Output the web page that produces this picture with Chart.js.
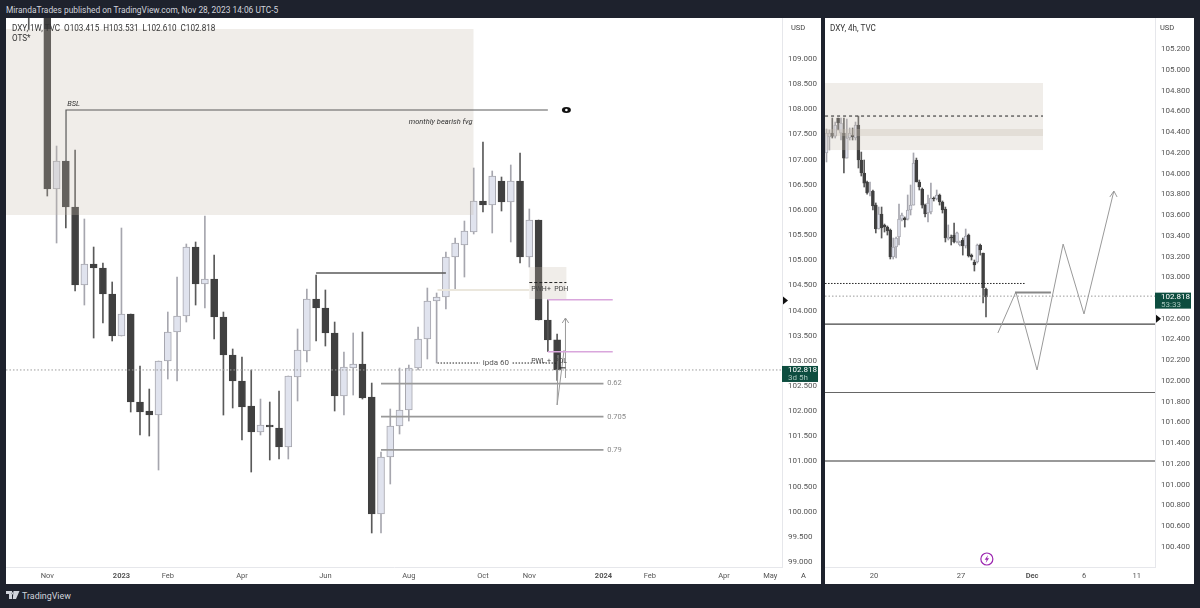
<!DOCTYPE html>
<html>
<head>
<meta charset="utf-8">
<title>DXY</title>
<script src="https://cdn.jsdelivr.net/npm/chart.js@4/dist/chart.umd.min.js"></script>
<style>
  html, body { margin: 0; padding: 0; width: 1200px; height: 608px; overflow: hidden; background: #1e222d; font-family: Roboto, sans-serif; }
  canvas { position: absolute; background: #fff; }
  .txt { position: absolute; white-space: pre; line-height: 10px; }
  #head { left: 6px; top: 5px; font-size: 8.4px; color: #d1d4dc; }
  #foot { left: 22px; top: 591px; font-size: 8.9px; color: #d1d4dc; }
  .legend { font-size: 8.15px; color: #333; }
  .usd { font-size: 7.5px; color: #444; }
</style>
</head>
<body>
<canvas id="weekly" width="815" height="566" style="left:6px;top:18px"></canvas>
<canvas id="fourHour" width="369" height="566" style="left:825px;top:18px"></canvas>

<div class="txt" id="head">MirandaTrades published on TradingView.com, Nov 28, 2023 14:06 UTC-5</div>
<div class="txt legend" style="left:12px;top:23px">DXY, 1W, TVC  O103.415  H103.531  L102.610  C102.818</div>
<div class="txt legend" style="left:12px;top:33px">OTS*</div>
<div class="txt legend" style="left:830px;top:23px">DXY, 4h, TVC</div>
<div class="txt usd" style="left:791px;top:23px">USD</div>
<div class="txt usd" style="left:1160px;top:23px">USD</div>
<div class="txt usd" style="left:801px;top:571px">A</div>
<svg style="position:absolute;left:6px;top:591px" width="14" height="9" viewBox="0 0 14 9">
  <path d="M0 0h6v8H3V3H0z M7.5 0h6L10 8H6.8z M6.6 1.2a1 1 0 1 0 .01 0z" fill="#d1d4dc"/>
</svg>
<div class="txt" id="foot">TradingView</div>

<script>
// weekly chart, first two weeks sit above the visible range
const weeklyOpen = [111.2,110.7,110.8,106.415,106.972,106.058,104.507,104.924,104.845,104.328,103.493,103.930,102.181,102.002,101.922,102.996,103.572,103.891,105.262,104.527,104.626,103.871,103.115,102.598,102.101,101.584,101.724,101.664,101.286,102.678,103.195,104.228,104.050,103.553,102.300,102.857,102.936,102.280,99.954,101.087,101.704,102.022,102.857,103.433,104.189,104.268,105.064,105.302,105.561,106.177,106.097,106.574,106.157,106.574,105.064,105.799,103.811,103.415];
const weeklyHigh = [112,111.2,110.9,107.270,106.972,107.191,105.819,105.262,104.944,104.567,105.640,103.930,102.897,102.439,102.996,103.970,104.666,105.322,105.362,105.879,105.103,103.970,103.235,103.075,102.817,102.240,102.181,102.400,102.698,103.632,104.427,104.706,104.408,103.771,103.175,103.553,103.572,102.558,101.187,102.042,102.857,102.916,103.672,104.447,104.348,105.163,105.441,105.779,106.833,107.350,106.773,106.654,106.893,107.131,106.018,105.799,103.811,103.531];
const weeklyLow = [109.577,110,106.276,105.342,105.640,104.388,104.109,103.453,103.751,103.394,103.493,101.982,101.525,101.505,100.829,102.638,102.598,103.771,104.109,104.050,103.433,101.922,102.062,101.425,100.789,101.525,101.028,101.048,101.048,102.201,102.976,103.394,103.294,102.002,101.922,102.320,102.240,99.577,99.577,100.551,101.545,101.803,102.817,103.036,102.956,104.030,104.427,104.666,105.521,105.958,105.541,105.978,105.362,104.944,104.865,103.811,103.413,102.610];
const weeklyClose = [110,110.8,106.415,106.972,106.058,104.507,104.924,104.845,104.328,103.493,103.930,102.181,101.982,101.922,102.996,103.572,103.891,105.262,104.527,104.626,103.871,103.115,102.598,102.081,101.584,101.724,101.684,101.286,102.698,103.215,104.228,104.050,103.553,102.300,102.877,102.936,102.260,99.954,101.087,101.704,102.022,102.857,103.433,104.189,104.268,105.064,105.342,105.580,106.177,106.097,106.674,106.157,106.574,105.064,105.799,103.811,103.413,102.818];
const weeklyTickPos = [0,8,13,21,30,39,47,52,60,65,73,78];
const weeklyTickText = ['Nov','2023','Feb','Apr','Jun','Aug','Oct','Nov','2024','Feb','Apr','May'];
const weeklyPriceTicks = [109,108.5,108,107.5,107,106.5,106,105.5,105,104.5,104,103.5,103,102.5,102,101.5,101,100.5,100,99.5,99];

// 4h chart
const hourOpen = [104.198,104.352,104.390,104.361,104.535,104.390,104.390,104.149,104.342,104.371,104.342,104.467,104.130,104.005,103.918,103.812,103.831,103.696,103.465,103.610,103.504,103.484,103.455,103.195,103.292,103.388,103.561,103.571,103.561,103.648,103.696,104.130,103.918,103.851,103.696,103.619,103.629,103.764,103.754,103.793,103.725,103.658,103.369,103.388,103.407,103.340,103.311,103.359,103.301,103.407,103.214,103.147,103.147,103.311,103.234,102.887];
const hourHigh = [104.429,104.419,104.535,104.496,104.535,104.535,104.535,104.525,104.439,104.439,104.496,104.554,104.207,104.130,103.928,103.918,103.841,103.716,103.677,103.677,103.513,103.494,103.465,103.378,103.388,103.706,103.619,103.581,103.793,103.889,104.198,104.149,103.937,103.860,103.706,103.793,103.908,103.774,103.841,103.802,103.735,103.677,103.504,103.407,103.523,103.436,103.349,103.378,103.465,103.417,103.224,103.166,103.320,103.320,103.234,102.896];
const hourLow = [104.111,104.226,104.342,104.342,104.419,104.323,104.005,104.149,104.323,104.323,104.323,104.053,103.976,103.870,103.802,103.783,103.648,103.427,103.465,103.378,103.436,103.407,103.176,103.176,103.186,103.311,103.542,103.484,103.552,103.600,103.696,103.918,103.841,103.667,103.581,103.533,103.610,103.735,103.745,103.696,103.619,103.340,103.359,103.311,103.330,103.330,103.301,103.214,103.282,103.195,103.166,103.060,103.137,103.214,102.752,102.617];
const hourClose = [104.390,104.390,104.361,104.467,104.487,104.487,104.149,104.342,104.390,104.352,104.467,104.130,104.005,103.908,103.812,103.822,103.687,103.465,103.610,103.475,103.484,103.446,103.195,103.292,103.378,103.561,103.600,103.552,103.648,103.696,104.101,103.918,103.870,103.696,103.610,103.716,103.764,103.754,103.793,103.725,103.648,103.378,103.388,103.378,103.340,103.427,103.340,103.301,103.398,103.205,103.195,103.118,103.311,103.263,102.896,102.810];
const hourTickPos = [16.4,46.4,70.9,88.8,107];
const hourTickText = ['20','27','Dec','6','11'];
const hourPriceTicks = [105.2,105,104.8,104.6,104.4,104.2,104,103.8,103.6,103.4,103.2,103,102.6,102.4,102.2,102,101.8,101.6,101.4,101.2,101,100.8,100.6,100.4];

const lastPrice = 102.818;
const fibLevels = [102.548,101.889,101.228];
const fibNames = ['0.62','0.705','0.79'];

// drawings on the weekly pane
const bslX = [2.02,2.02,54];
const bslY = [106.972,107.986,107.986];
const swingX = [29,43];
const swingY = [104.745,104.745];
const beigeX = [42.1,52];
const beigeY = [104.408,104.408];
const pwhX = [52,56];
const pwhY = [104.556,104.556];
const purpleX = [54,61];
const purpleHigh = [104.215,104.215];
const purpleLow = [103.181,103.181];
const stemX = [54,54];
const stemY = [104.215,103.181];
const ipdaX = [42.1,55];
const ipdaY = [102.956,102.956];
const tickX = [55.3,55.9];
const tickY = [102.86,102.86];
const wickPathX = [55.1,55,55.75];
const wickPathY = [103.115,102.121,103.215];
const upArrowX = [55.9,55.9];
const upArrowY = [102.658,103.851];
const upHeadX = [55.55,55.9,56.25];
const upHeadY = [103.751,103.851,103.751];

// drawings on the 4h pane
const dashX = [-0.5,74.66];
const dashY = [104.554,104.554];
const pdX = [-0.5,68.8];
const pdY = [102.94,102.94];
const shelfX = [65,77.4];
const shelfY = [102.853,102.853];
const projX = [59.1,65.3,72.6,81.6,88.8,99.1];
const projY = [102.463,102.858,102.106,103.32,102.646,103.831];
const projHeadX = [97.7,99.1,100.2];
const projHeadY = [103.774,103.831,103.774];

Chart.defaults.animation = false;
Chart.defaults.font.family = 'Roboto, sans-serif';

const ZONE = 'rgba(200,189,174,0.27)';
const AXIS_TEXT = '#555';
const BOLD_TICKS = ['2023','2024','Dec'];

function pts(xs, ys) {
  return xs.map((x, i) => ({ x: x, y: ys[i] }));
}

function lineSet(xs, ys, color, width, dash) {
  return { type: 'line', data: pts(xs, ys), borderColor: color, borderWidth: width, borderDash: dash || [], pointRadius: 0, tension: 0, order: 10 };
}

function candleSets(o, h, l, c, first, bodyWidth) {
  const xs = o.map((_, i) => first + i);
  const up = c.map((v, i) => v >= o[i]);
  return [
    {
      type: 'bar', grouped: false, order: 30, barThickness: 1,
      data: xs.map((x, i) => ({ x: x, y: [l[i], h[i]] })),
      backgroundColor: up.map(u => u ? '#a6a6ae' : '#5a5a5a')
    },
    {
      type: 'bar', grouped: false, order: 20, barThickness: bodyWidth, borderSkipped: false, borderWidth: 1,
      data: xs.map((x, i) => ({ x: x, y: [Math.min(o[i], c[i]), Math.max(o[i], c[i])] })),
      backgroundColor: up.map(u => u ? '#e0e3ee' : '#404040'),
      borderColor: up.map(u => u ? '#a6a6ae' : '#404040')
    }
  ];
}

function baseOptions(xMin, xMax, yMin, yMax, tickPos, tickText, priceTicks) {
  return {
    responsive: false,
    layout: { padding: 0 },
    plugins: { legend: { display: false }, tooltip: { enabled: false } },
    scales: {
      x: {
        type: 'linear', min: xMin, max: xMax, offset: false,
        grid: { display: false, drawTicks: false },
        border: { color: '#e6e7eb' },
        afterBuildTicks: s => { s.ticks = tickPos.map(v => ({ value: v })); },
        afterFit: s => { s.height = 17; s.paddingLeft = 0; s.paddingRight = 0; },
        ticks: {
          autoSkip: false, maxRotation: 0, padding: 5, color: AXIS_TEXT,
          callback: v => tickText[tickPos.indexOf(v)],
          font: ctx => {
            const t = tickText[tickPos.indexOf(ctx.tick ? ctx.tick.value : -99)];
            return { size: 7.5, weight: BOLD_TICKS.includes(t) ? 'bold' : 'normal' };
          }
        }
      },
      y: {
        position: 'right', min: yMin, max: yMax,
        grid: { display: false, drawTicks: false },
        border: { color: '#e6e7eb' },
        afterBuildTicks: s => { s.ticks = priceTicks.map(v => ({ value: v })); },
        // tick label half heights would otherwise push the plot down
        afterFit: s => { s.width = 39; s.paddingTop = 0; s.paddingBottom = 0; },
        ticks: { padding: 6, color: AXIS_TEXT, font: { size: 8 }, callback: v => v.toFixed(3) }
      }
    }
  };
}

function fillZone(chart, x1, x2, y1, y2, color) {
  const { x, y } = chart.scales;
  const ctx = chart.ctx;
  ctx.save();
  ctx.fillStyle = color;
  ctx.fillRect(x.getPixelForValue(x1), y.getPixelForValue(y2), x.getPixelForValue(x2) - x.getPixelForValue(x1), y.getPixelForValue(y1) - y.getPixelForValue(y2));
  ctx.restore();
}

function note(chart, text, xv, yv, opts) {
  const o = opts || {};
  const ctx = chart.ctx;
  const px = chart.scales.x.getPixelForValue(xv);
  const py = chart.scales.y.getPixelForValue(yv);
  ctx.save();
  ctx.font = (o.italic ? 'italic ' : '') + (o.size || 7.5) + 'px Roboto, sans-serif';
  ctx.textBaseline = 'middle';
  ctx.textAlign = o.align || 'left';
  if (o.bg) {
    const w = ctx.measureText(text).width;
    ctx.fillStyle = '#fff';
    ctx.fillRect(px - w / 2 - 3, py - 4, w + 6, 8);
  }
  ctx.fillStyle = o.color || '#555';
  ctx.fillText(text, px, py);
  ctx.restore();
}

function priceBox(chart, top, line1, line2) {
  const ctx = chart.ctx;
  const area = chart.chartArea;
  const py = chart.scales.y.getPixelForValue(lastPrice);
  ctx.save();
  ctx.fillStyle = '#0d4d3f';
  ctx.fillRect(area.right, py + top, 36, 16);
  ctx.font = '8px Roboto, sans-serif';
  ctx.textBaseline = 'middle';
  ctx.fillStyle = '#fff';
  ctx.fillText(line1, area.right + 6, py + top + 4.5);
  ctx.fillStyle = '#a5c4bb';
  ctx.fillText(line2, area.right + 6, py + top + 12);
  ctx.restore();
}

function marker(chart, price) {
  const ctx = chart.ctx;
  const px = chart.chartArea.right + 1;
  const py = chart.scales.y.getPixelForValue(price);
  ctx.save();
  ctx.fillStyle = '#111';
  ctx.beginPath();
  ctx.moveTo(px, py - 4);
  ctx.lineTo(px + 5, py);
  ctx.lineTo(px, py + 4);
  ctx.fill();
  ctx.restore();
}

const weeklyExtras = {
  id: 'weeklyExtras',
  afterDatasetDraw(chart, args) {
    if (args.index !== 1) return;
    fillZone(chart, -4.46, 45.98, 105.899, 109.596, ZONE);
    fillZone(chart, 52, 56, 104.228, 104.865, ZONE);
  },
  afterDraw(chart) {
    note(chart, 'BSL', 2.15, 108.11, { italic: true, color: '#333' });
    note(chart, 'monthly bearish fvg', 39, 107.75, { italic: true, color: '#333' });
    note(chart, 'ipda 60', 48.4, 102.956, { bg: true, align: 'center', size: 8 });
    note(chart, 'PWH', 52.2, 104.42, { color: '#444', size: 7 });
    note(chart, '+', 53.9, 104.42, { color: '#444', size: 7 });
    note(chart, 'PDH', 54.7, 104.42, { color: '#444', size: 7 });
    note(chart, 'PWL', 52.2, 102.99, { color: '#444', size: 7 });
    note(chart, '+', 53.9, 102.99, { color: '#444', size: 7 });
    note(chart, 'PDL', 54.7, 102.99, { color: '#444', size: 7 });
    fibLevels.forEach((lv, i) => note(chart, fibNames[i], 60.4, lv, { color: '#888' }));
    // eye icon
    const ctx = chart.ctx;
    const ex = chart.scales.x.getPixelForValue(56);
    const ey = chart.scales.y.getPixelForValue(107.986);
    ctx.save();
    ctx.fillStyle = '#111';
    ctx.beginPath();
    ctx.ellipse(ex, ey, 4.5, 3, 0, 0, Math.PI * 2);
    ctx.fill();
    ctx.fillStyle = '#fff';
    ctx.beginPath();
    ctx.arc(ex, ey, 1.3, 0, Math.PI * 2);
    ctx.fill();
    ctx.restore();
    priceBox(chart, -4, '102.818', '3d 5h');
    marker(chart, 104.2);
  }
};

const hourExtras = {
  id: 'hourExtras',
  afterDatasetDraw(chart, args) {
    if (args.index !== 1) return;
    fillZone(chart, -0.52, 74.66, 104.226, 104.872, ZONE);
    fillZone(chart, -0.52, 74.66, 104.361, 104.429, 'rgba(200,189,174,0.3)');
  },
  afterDraw(chart) {
    // lightning icon
    const ctx = chart.ctx;
    const ix = chart.scales.x.getPixelForValue(55.3);
    const iy = chart.scales.y.getPixelForValue(100.284);
    ctx.save();
    ctx.strokeStyle = '#9c27b0';
    ctx.lineWidth = 1.2;
    ctx.beginPath();
    ctx.arc(ix, iy, 6, 0, Math.PI * 2);
    ctx.stroke();
    ctx.fillStyle = '#9c27b0';
    ctx.beginPath();
    ctx.moveTo(ix + 1.3, iy - 4);
    ctx.lineTo(ix - 2.2, iy + 0.7);
    ctx.lineTo(ix - 0.2, iy + 0.7);
    ctx.lineTo(ix - 1.2, iy + 4);
    ctx.lineTo(ix + 2.2, iy - 0.8);
    ctx.lineTo(ix + 0.2, iy - 0.8);
    ctx.fill();
    ctx.restore();
    priceBox(chart, -3.5, '102.818', '53:33');
    marker(chart, 102.6);
  }
};

const weeklyLines = [
  lineSet(bslX, bslY, '#5a5a5a', 1.2),
  lineSet(swingX, swingY, '#5a5a5a', 1.6),
  lineSet(beigeX, beigeY, '#ebe7dd', 2),
  lineSet(pwhX, pwhY, '#222', 1, [3, 2]),
  lineSet(purpleX, purpleHigh, '#d9a6dc', 1.4),
  lineSet(purpleX, purpleLow, '#d9a6dc', 1.4),
  lineSet(stemX, stemY, '#555', 1),
  lineSet(ipdaX, ipdaY, '#222', 1, [1.5, 1.5]),
  lineSet(tickX, tickY, '#222', 1),
  lineSet(wickPathX, wickPathY, '#999', 1),
  lineSet(upArrowX, upArrowY, '#999', 1),
  lineSet(upHeadX, upHeadY, '#999', 1),
  lineSet([-4.46, 79.26], [lastPrice, lastPrice], '#9a9a9a', 1, [1.5, 2])
].concat(fibLevels.map(lv => lineSet([36, 60], [lv, lv], '#999', 1.7)));

new Chart(document.getElementById('weekly'), {
  type: 'bar',
  data: { datasets: candleSets(weeklyOpen, weeklyHigh, weeklyLow, weeklyClose, -2, 7).concat(weeklyLines) },
  options: baseOptions(-4.455, 79.26, 98.901, 109.815, weeklyTickPos, weeklyTickText, weeklyPriceTicks),
  plugins: [weeklyExtras]
});

const hourLines = [
  lineSet(dashX, dashY, '#222', 1, [3, 3]),
  lineSet(pdX, pdY, '#222', 1, [1.5, 1.5]),
  lineSet([-0.52, 113.28], [lastPrice, lastPrice], '#9a9a9a', 1, [1.5, 2]),
  lineSet(shelfX, shelfY, '#888', 2),
  lineSet(projX, projY, '#999', 1),
  lineSet(projHeadX, projHeadY, '#999', 1),
  lineSet([-0.52, 113.28], [fibLevels[0], fibLevels[0]], '#444', 1.2),
  lineSet([-0.52, 113.28], [fibLevels[1], fibLevels[1]], '#666', 1.2),
  lineSet([-0.52, 113.28], [fibLevels[2], fibLevels[2]], '#999', 2)
];

new Chart(document.getElementById('fourHour'), {
  type: 'bar',
  data: { datasets: candleSets(hourOpen, hourHigh, hourLow, hourClose, 0, 3).concat(hourLines) },
  options: baseOptions(-0.517, 113.28, 100.207, 105.499, hourTickPos, hourTickText, hourPriceTicks),
  plugins: [hourExtras]
});
</script>
</body>
</html>
